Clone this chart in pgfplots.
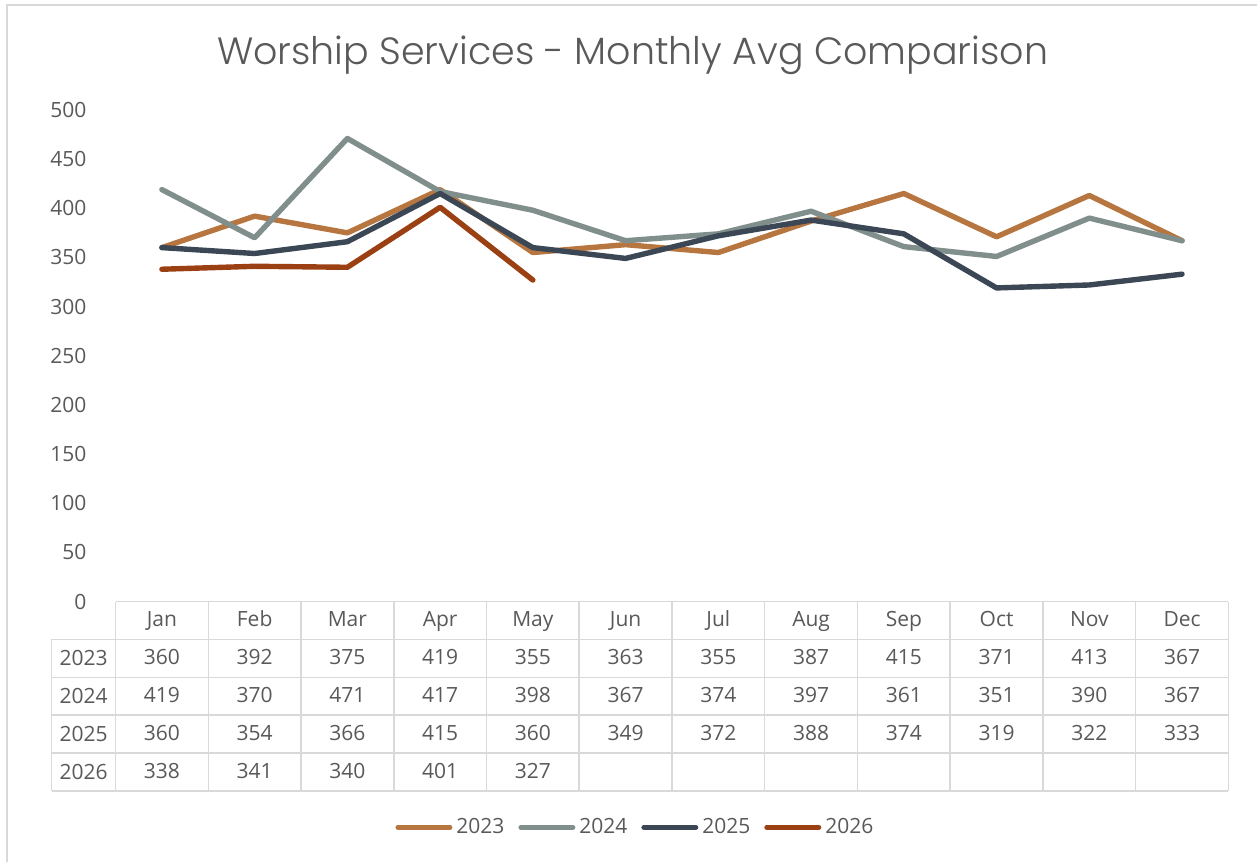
\documentclass[border=0pt]{standalone}
\usepackage{fontspec}
\setmainfont{Open Sans}
\newfontfamily\titlefont{Poppins Light}
\usepackage{pgfplots}
\usepackage{pgfplotstable}
\pgfplotsset{compat=1.18}

\definecolor{cA}{HTML}{B7763F}
\definecolor{cB}{HTML}{808E8C}
\definecolor{cC}{HTML}{3B4754}
\definecolor{cD}{HTML}{9B4012}
\definecolor{txt}{HTML}{595959}
\definecolor{gridc}{HTML}{D9D9D9}

% monthly averages per year
\pgfplotstableread{
x m   a   b   c
0 Jan 360 419 360
1 Feb 392 370 354
2 Mar 375 471 366
3 Apr 419 417 415
4 May 355 398 360
5 Jun 363 367 349
6 Jul 355 374 372
7 Aug 387 397 388
8 Sep 415 361 374
9 Oct 371 351 319
10 Nov 413 390 322
11 Dec 367 367 333
}\ws
\pgfplotstableread{
x d
0 338
1 341
2 340
3 401
4 327
}\wsnew

\begin{document}
\begin{tikzpicture}[font=\fontsize{10.5}{12}\selectfont, text=txt]
\path (0,0) rectangle (629pt,431.5pt);
\draw[gridc, line width=0.8pt] (3.5pt,0) -- (3.5pt,429pt) -- (629pt,429pt);
\node[font=\titlefont\fontsize{19}{22}\selectfont, text=txt] at (316.5pt,404pt) {Worship Services - Monthly Avg Comparison};
\begin{axis}[
    at={(57.8pt,130.5pt)}, anchor=south west,
    scale only axis, width=556.8pt, height=246pt,
    xmin=-0.5, xmax=11.5, ymin=0, ymax=500,
    axis lines=none, clip=false,
    ytick={50,100,...,500},
    ymajorgrids, grid style={gridc, line width=0.75pt},
    xtick=\empty,
    /pgf/number format/assume math mode=true,
    legend columns=4,
    legend style={at={(0.468,-0.459)}, anchor=center, draw=none, fill=none,
        font=\fontsize{10.5}{12}\selectfont, text=txt,
        /tikz/every even column/.append style={column sep=5pt},
        /tikz/every odd column/.append style={column sep=0pt}},
    legend image code/.code={\draw[#1, line width=2.5pt] (0pt,0pt) -- (26pt,0pt);},
    every axis plot/.append style={line width=2.7pt, line cap=round, line join=round},
]
% y tick labels drawn by hand so 0 sits on the table top
\pgfplotsinvokeforeach{0,50,...,500}{\node[anchor=east, text=txt] at (axis cs:-0.5,#1) [xshift=-11pt] {#1};}
\draw[gridc, line width=0.75pt] (axis cs:-0.5,0) -- (axis cs:11.5,0);
% table grid
\pgfplotsinvokeforeach{-38.5,-77,-115.5,-154,-192.5}{
  \draw[gridc, line width=0.75pt] (axis cs:-1.188,#1) -- (axis cs:11.5,#1);}
\pgfplotsinvokeforeach{-0.5,0.5,...,11.5}{
  \draw[gridc, line width=0.75pt] (axis cs:#1,0) -- (axis cs:#1,-192.5);}
\draw[gridc, line width=0.75pt] (axis cs:-1.188,-38.5) -- (axis cs:-1.188,-192.5);
\node at (axis cs:-0.844,-57.75) {2023};
\node at (axis cs:-0.844,-96.25) {2024};
\node at (axis cs:-0.844,-134.75) {2025};
\node at (axis cs:-0.844,-173.25) {2026};

\addplot[cA] table[x=x, y=a] {\ws};
\addlegendentry{2023}
\addplot[cB] table[x=x, y=b] {\ws};
\addlegendentry{2024}
\addplot[cC] table[x=x, y=c] {\ws};
\addlegendentry{2025}
\addplot[cD] table[x=x, y=d] {\wsnew};
\addlegendentry{2026}

% data table text
\pgfplotsset{tabrow/.style={forget plot, draw=none, mark=none, point meta=explicit symbolic,
    nodes near coords, nodes near coords align=center,
    every node near coord/.append style={anchor=center, text=txt, text height=1.6ex, text depth=0.4ex,
      font=\fontsize{10.5}{12}\selectfont}}}
\addplot[tabrow] table[x=x, y expr=-19.25, meta=m] {\ws};
\addplot[tabrow] table[x=x, y expr=-57.75, meta=a] {\ws};
\addplot[tabrow] table[x=x, y expr=-96.25, meta=b] {\ws};
\addplot[tabrow] table[x=x, y expr=-134.75, meta=c] {\ws};
\addplot[tabrow] table[x=x, y expr=-173.25, meta=d] {\wsnew};
\end{axis}
\end{tikzpicture}
\end{document}
